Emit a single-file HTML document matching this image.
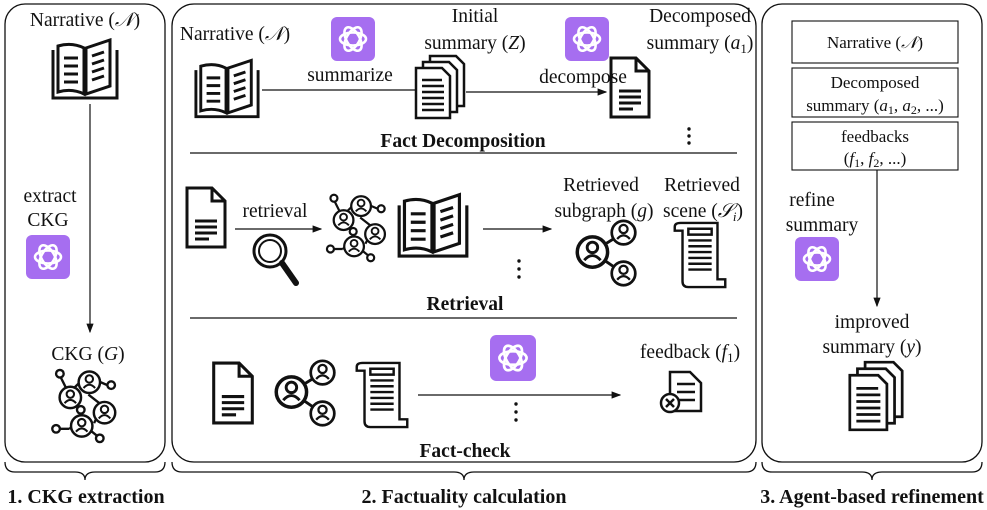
<!DOCTYPE html>
<html><head><meta charset="utf-8"><style>
html,body{margin:0;padding:0;background:#fff;}
svg{display:block;font-family:"Liberation Serif",serif;}
text{font-size:19.5px;fill:#111;}
.b{font-weight:bold;}
.s{font-size:17px;}
</style></head><body>
<svg width="987" height="510" viewBox="0 0 987 510" xmlns="http://www.w3.org/2000/svg">
<defs>
<marker id="ar" markerWidth="8" markerHeight="8" refX="7" refY="4" orient="auto"><path d="M0,1 L8,4 L0,7 Z" fill="#111"/></marker>
<symbol id="gpt" viewBox="0 0 44 44">
<rect width="44" height="44" rx="6" fill="#a66ef0"/>
<g fill="none" stroke="#fff" stroke-width="2.6">
<ellipse cx="22" cy="22" rx="13" ry="6.5"/>
<ellipse cx="22" cy="22" rx="13" ry="6.5" transform="rotate(60 22 22)"/>
<ellipse cx="22" cy="22" rx="13" ry="6.5" transform="rotate(120 22 22)"/>
</g>
</symbol>
<symbol id="book" viewBox="0 0 70 65">
<g fill="none" stroke="#111" stroke-width="3">
<path d="M3,12 V60 H67 V12"/>
<path d="M8,8 Q22,4 34,10 V56 Q22,50 8,54 Z"/>
<path d="M36,10 L60,2 V48 L36,56 Z"/>
<path d="M14,20 H28 M14,28 H28 M14,36 H28 M14,44 H28 M42,18 L54,14 M42,26 L54,22 M42,34 L54,30 M42,42 L54,38"/>
</g>
</symbol>
<symbol id="doc" viewBox="0 0 44 65">
<g fill="none" stroke="#111" stroke-width="3">
<path d="M3,3 H28 L41,16 V62 H3 Z M28,3 V16 H41"/>
<path d="M11,36 H33 M11,42 H33 M11,48 H33 M11,54 H25"/>
</g>
</symbol>
<symbol id="stack" viewBox="0 0 52 66">
<g stroke="#111" stroke-width="2.5" fill="#fff">
<path d="M16,2 H42 L50,10 V52 H16 Z"/>
<path d="M9,8 H35 L43,16 V58 H9 Z"/>
<path d="M2,14 H28 L36,22 V64 H2 Z"/>
</g>
<path d="M8,26 H28 M8,32 H30 M8,38 H30 M8,44 H30 M8,50 H30 M8,56 H30" stroke="#111" stroke-width="2.5"/>
</symbol>
<symbol id="person" viewBox="0 0 30 30">
<circle cx="15" cy="15" r="13" fill="#fff" stroke="#111" stroke-width="3"/>
<circle cx="15" cy="11" r="4.5" fill="none" stroke="#111" stroke-width="2.5"/>
<path d="M8,22 Q15,14 22,22" fill="none" stroke="#111" stroke-width="2.5"/>
</symbol>
<symbol id="graph" viewBox="0 0 75 80">
<g stroke="#111" stroke-width="2.5" fill="#fff">
<path d="M10,8 L18,24 M24,22 L32,14 M46,12 L60,18 M40,28 L58,42 M24,36 L30,42 M20,64 L30,56 M46,58 L52,46 M40,64 L50,72 M10,64 L20,64" fill="none"/>
<circle cx="10" cy="6" r="4"/><circle cx="64" cy="18" r="4"/><circle cx="32" cy="44" r="4"/><circle cx="6" cy="64" r="4"/><circle cx="52" cy="74" r="4"/>
</g>
<use href="#person" x="8" y="18" width="26" height="26"/>
<use href="#person" x="28" y="2" width="26" height="26"/>
<use href="#person" x="44" y="34" width="26" height="26"/>
<use href="#person" x="20" y="48" width="26" height="26"/>
</symbol>
<symbol id="sub" viewBox="0 0 70 72">
<path d="M20,34 L52,14 M20,34 L52,56" stroke="#111" stroke-width="3"/>
<use href="#person" x="2" y="16" width="36" height="36"/>
<use href="#person" x="38" y="0" width="28" height="28"/>
<use href="#person" x="38" y="42" width="28" height="28"/>
</symbol>
<symbol id="scroll" viewBox="0 0 56 70">
<g fill="#fff" stroke="#111" stroke-width="2.5">
<path d="M8,2 H46 V60 H54 V68 H16 Q10,68 10,62 V10 H2 V6 Q2,2 8,2 Z"/>
<path d="M16,8 H40 V14 H16 Z M16,20 H40 M16,26 H40 M16,32 H40 M16,38 H40 M16,44 H40 M16,50 H40" fill="none"/>
</g>
</symbol>
<symbol id="mag" viewBox="0 0 50 60">
<circle cx="20" cy="20" r="16" fill="none" stroke="#111" stroke-width="3"/>
<circle cx="20" cy="20" r="11" fill="none" stroke="#111" stroke-width="2"/>
<path d="M32,32 L46,52" stroke="#111" stroke-width="6" stroke-linecap="round"/>
</symbol>
</defs>

<!-- panels -->
<rect x="5" y="4" width="160" height="458" rx="20" fill="none" stroke="#111" stroke-width="1.3"/>
<rect x="172" y="4" width="584" height="458" rx="22" fill="none" stroke="#111" stroke-width="1.3"/>
<rect x="762" y="4" width="220" height="458" rx="20" fill="none" stroke="#111" stroke-width="1.3"/>

<!-- braces -->
<g fill="none" stroke="#111" stroke-width="1.3">
<path d="M5,462 Q5,472 15,472 H75 Q85,472 85,480 Q85,472 95,472 H155 Q165,472 165,462"/>
<path d="M172,462 Q172,472 182,472 H454 Q464,472 464,480 Q464,472 474,472 H746 Q756,472 756,462"/>
<path d="M762,462 Q762,472 772,472 H862 Q872,472 872,480 Q872,472 882,472 H972 Q982,472 982,462"/>
</g>
<text class="b" x="86" y="503" text-anchor="middle" style="font-size:20px">1. CKG extraction</text>
<text class="b" x="464" y="503" text-anchor="middle" style="font-size:20px">2. Factuality calculation</text>
<text class="b" x="872" y="503" text-anchor="middle" style="font-size:20px">3. Agent-based refinement</text>

<!-- panel 1 -->
<text x="85" y="26" text-anchor="middle">Narrative (<tspan font-style="italic">𝒩</tspan>)</text>
<use href="#book" x="50" y="38" width="70" height="65"/>
<line x1="90" y1="104" x2="90" y2="332" stroke="#111" stroke-width="1.2" marker-end="url(#ar)"/>
<text x="50" y="202" text-anchor="middle">extract</text>
<text x="48" y="226" text-anchor="middle">CKG</text>
<use href="#gpt" x="26" y="235" width="44" height="44"/>
<text x="88" y="360" text-anchor="middle">CKG (<tspan font-style="italic">G</tspan>)</text>
<use href="#graph" x="50" y="368" width="72" height="76"/>

<!-- Fact decomposition -->
<text x="235" y="40" text-anchor="middle">Narrative (<tspan font-style="italic">𝒩</tspan>)</text>
<use href="#book" x="193" y="58" width="68" height="64"/>
<use href="#gpt" x="331" y="17" width="44" height="44"/>
<text x="350" y="81" text-anchor="middle">summarize</text>
<line x1="262" y1="90" x2="440" y2="90" stroke="#111" stroke-width="1.2" marker-end="url(#ar)"/>
<text x="475" y="22" text-anchor="middle">Initial</text>
<text x="475" y="49" text-anchor="middle">summary (<tspan font-style="italic">Z</tspan>)</text>
<use href="#stack" x="414" y="54" width="52" height="66"/>
<use href="#gpt" x="565" y="17" width="44" height="44"/>
<text x="583" y="83" text-anchor="middle">decompose</text>
<line x1="505" y1="92" x2="606" y2="92" stroke="#111" stroke-width="1.2" marker-end="url(#ar)"/>
<line x1="466" y1="92" x2="505" y2="92" stroke="#111" stroke-width="1.2"/>
<text x="700" y="22" text-anchor="middle">Decomposed</text>
<text x="700" y="49" text-anchor="middle">summary (<tspan font-style="italic">a</tspan><tspan font-size="13" dy="4">1</tspan><tspan dy="-4">)</tspan></text>
<use href="#doc" x="608" y="55" width="44" height="65"/>
<g fill="#111"><circle cx="689" cy="129" r="1.7"/><circle cx="689" cy="136" r="1.7"/><circle cx="689" cy="143" r="1.7"/></g>
<text class="b" x="463" y="147" text-anchor="middle">Fact Decomposition</text>
<line x1="190" y1="153" x2="737" y2="153" stroke="#111" stroke-width="1.2"/>

<!-- Retrieval -->
<use href="#doc" x="183" y="185" width="46" height="65"/>
<text x="275" y="217" text-anchor="middle">retrieval</text>
<line x1="235" y1="229" x2="321" y2="229" stroke="#111" stroke-width="1.2" marker-end="url(#ar)"/>
<use href="#mag" x="250" y="231" width="50" height="60"/>
<use href="#graph" x="324" y="193" width="68" height="70"/>
<use href="#book" x="396" y="190" width="74" height="74"/>
<line x1="483" y1="229" x2="551" y2="229" stroke="#111" stroke-width="1.2" marker-end="url(#ar)"/>
<g fill="#111"><circle cx="519" cy="261" r="1.7"/><circle cx="519" cy="269" r="1.7"/><circle cx="519" cy="277" r="1.7"/></g>
<text x="601" y="191" text-anchor="middle">Retrieved</text>
<text x="604" y="217" text-anchor="middle">subgraph (<tspan font-style="italic">g</tspan>)</text>
<use href="#sub" x="573" y="219" width="68" height="70"/>
<text x="702" y="191" text-anchor="middle">Retrieved</text>
<text x="703" y="217" text-anchor="middle">scene (<tspan font-style="italic">𝒮</tspan><tspan font-size="13" dy="4" font-style="italic">i</tspan><tspan dy="-4">)</tspan></text>
<use href="#scroll" x="670" y="221" width="60" height="68"/>
<text class="b" x="465" y="310" text-anchor="middle">Retrieval</text>
<line x1="190" y1="318" x2="737" y2="318" stroke="#111" stroke-width="1.2"/>

<!-- Fact-check -->
<use href="#doc" x="210" y="360" width="46" height="66"/>
<use href="#sub" x="271" y="359" width="70" height="70"/>
<use href="#scroll" x="352" y="361" width="60" height="68"/>
<use href="#gpt" x="490" y="335" width="46" height="46"/>
<line x1="418" y1="395" x2="620" y2="395" stroke="#111" stroke-width="1.2" marker-end="url(#ar)"/>
<g fill="#111"><circle cx="516" cy="404" r="1.7"/><circle cx="516" cy="412" r="1.7"/><circle cx="516" cy="420" r="1.7"/></g>
<text x="690" y="358" text-anchor="middle">feedback (<tspan font-style="italic">f</tspan><tspan font-size="13" dy="4">1</tspan><tspan dy="-4">)</tspan></text>
<g fill="#fff" stroke="#111" stroke-width="2.5">
<path d="M670,372 H690 L701,383 V411 H670 Z"/>
<path d="M677,384 H695 M677,392 H695 M677,400 H695" fill="none"/>
<circle cx="670" cy="403" r="9"/>
<path d="M666,399 L674,407 M674,399 L666,407" fill="none"/>
</g>
<text class="b" x="465" y="457" text-anchor="middle">Fact-check</text>

<!-- panel 3 -->
<g fill="none" stroke="#111" stroke-width="1.1">
<rect x="792" y="21" width="166" height="42"/>
<rect x="792" y="68" width="166" height="49"/>
<rect x="792" y="122" width="166" height="48"/>
</g>
<text class="s" x="875" y="48" text-anchor="middle">Narrative (<tspan font-style="italic">𝒩</tspan>)</text>
<text class="s" x="875" y="88" text-anchor="middle">Decomposed</text>
<text class="s" x="875" y="111" text-anchor="middle">summary (<tspan font-style="italic">a</tspan><tspan font-size="12" dy="3">1</tspan><tspan dy="-3">, </tspan><tspan font-style="italic">a</tspan><tspan font-size="12" dy="3">2</tspan><tspan dy="-3">, ...)</tspan></text>
<text class="s" x="875" y="142" text-anchor="middle">feedbacks</text>
<text class="s" x="875" y="164" text-anchor="middle">(<tspan font-style="italic">f</tspan><tspan font-size="12" dy="3">1</tspan><tspan dy="-3">, </tspan><tspan font-style="italic">f</tspan><tspan font-size="12" dy="3">2</tspan><tspan dy="-3">, ...)</tspan></text>
<text x="812" y="206" text-anchor="middle">refine</text>
<text x="822" y="231" text-anchor="middle">summary</text>
<use href="#gpt" x="795" y="237" width="44" height="44"/>
<line x1="877" y1="170" x2="877" y2="306" stroke="#111" stroke-width="1.2" marker-end="url(#ar)"/>
<text x="872" y="328" text-anchor="middle">improved</text>
<text x="872" y="353" text-anchor="middle">summary (<tspan font-style="italic">y</tspan>)</text>
<use href="#stack" x="846" y="360" width="60" height="72"/>
</svg>
</body></html>
